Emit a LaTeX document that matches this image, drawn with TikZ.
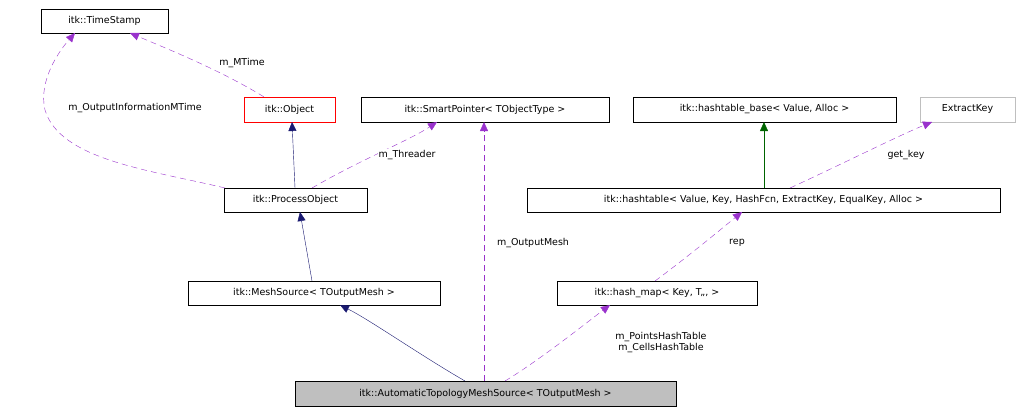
\documentclass[tikz,border=0pt]{standalone}
\usepackage{fontspec}
\setmainfont{DejaVu Sans}
\usetikzlibrary{arrows.meta}
\begin{document}
\begin{tikzpicture}[x=1pt,y=-1pt,
  box/.style={draw=black,fill=white,inner sep=0pt,font=\fontsize{9.5}{11}\selectfont},
  dep/.style={draw={rgb,255:red,153;green,50;blue,204},dashed,dash pattern=on 6pt off 4pt,-{Triangle[open,length=9pt,width=8pt,fill={rgb,255:red,153;green,50;blue,204}]}},
  inh/.style={draw={rgb,255:red,25;green,25;blue,112},-{Triangle[length=9pt,width=8pt,fill={rgb,255:red,25;green,25;blue,112}]}},
  lbl/.style={font=\fontsize{9.5}{11}\selectfont,fill=white,inner sep=1pt,align=left}]
\useasboundingbox (0,0) rectangle (1024,413);
\newcommand{\bx}[6]{\node[box,minimum width=#4-#2,minimum height=#5-#3,#6] (#1) at ({(#2+#4)/2},{(#3+#5)/2}) {};}
\bx{ts}{41}{9}{168}{33}{}
\node[font=\fontsize{9.5}{11}\selectfont] at (ts) {itk::TimeStamp};
\bx{obj}{244}{97}{335}{122}{draw=red}
\node[font=\fontsize{9.5}{11}\selectfont] at (obj) {itk::Object};
\bx{sp}{361}{97}{609}{122}{}
\node[font=\fontsize{9.5}{11}\selectfont] at (sp) {itk::SmartPointer< TObjectType >};
\bx{hb}{633}{97}{896}{122}{}
\node[font=\fontsize{9.5}{11}\selectfont] at (hb) {itk::hashtable\_base< Value, Alloc >};
\bx{ek}{920}{97}{1015}{122}{draw={rgb,255:red,191;green,191;blue,191}}
\node[font=\fontsize{9.5}{11}\selectfont] at (ek) {ExtractKey};
\bx{po}{224}{188}{367}{212}{}
\node[font=\fontsize{9.5}{11}\selectfont] at (po) {itk::ProcessObject};
\bx{ht}{527}{188}{1000}{212}{}
\node[font=\fontsize{9.5}{11}\selectfont] at (ht) {itk::hashtable< Value, Key, HashFcn, ExtractKey, EqualKey, Alloc >};
\bx{ms}{188}{281}{440}{305}{}
\node[font=\fontsize{9.5}{11}\selectfont] at (ms) {itk::MeshSource< TOutputMesh >};
\bx{hm}{557}{281}{757}{305}{}
\node[font=\fontsize{9.5}{11}\selectfont] at (hm) {itk::hash\_map< Key, T,,, >};
\bx{at}{295}{381}{676}{406}{fill={rgb,255:red,191;green,191;blue,191}}
\node[font=\fontsize{9.5}{11}\selectfont] at (at) {itk::AutomaticTopologyMeshSource< TOutputMesh >};
% edges
\draw[dep] (obj.north west)++(20,0) .. controls (220,70) and (170,50) .. (130,33);
\node[lbl] at (242,63) {m\_MTime};
\draw[dep] (225,188) .. controls (150,170) and (60,160) .. (45,110) .. controls (38,80) and (60,50) .. (75,33);
\node[lbl] at (135,108) {m\_OutputInformationMTime};
\draw[inh] (295,188) -- (292,122);
\draw[dep] (312,188) .. controls (360,160) and (410,140) .. (437,122);
\node[lbl] at (407,155) {m\_Threader};
\draw[inh] (312,281) -- (300,212);
\draw[inh] (465,381) .. controls (420,355) and (370,320) .. (340,305);
\draw[dep] (484,381) -- (484,122);
\node[lbl] at (533,243) {m\_OutputMesh};
\draw[dep] (505,381) .. controls (540,360) and (590,320) .. (610,305);
\node[lbl,align=center] at (661,343) {m\_PointsHashTable\\m\_CellsHashTable};
\draw[dep] (655,281) .. controls (690,255) and (720,230) .. (742,212);
\node[lbl] at (737,243) {rep};
\draw[draw={rgb,255:red,0;green,100;blue,0},-{Triangle[length=9pt,width=8pt,fill={rgb,255:red,0;green,100;blue,0}]}] (764,188) -- (764,122);
\draw[dep] (790,188) .. controls (840,165) and (900,135) .. (932,122);
\node[lbl] at (906,155) {get\_key};
\end{tikzpicture}
\end{document}
